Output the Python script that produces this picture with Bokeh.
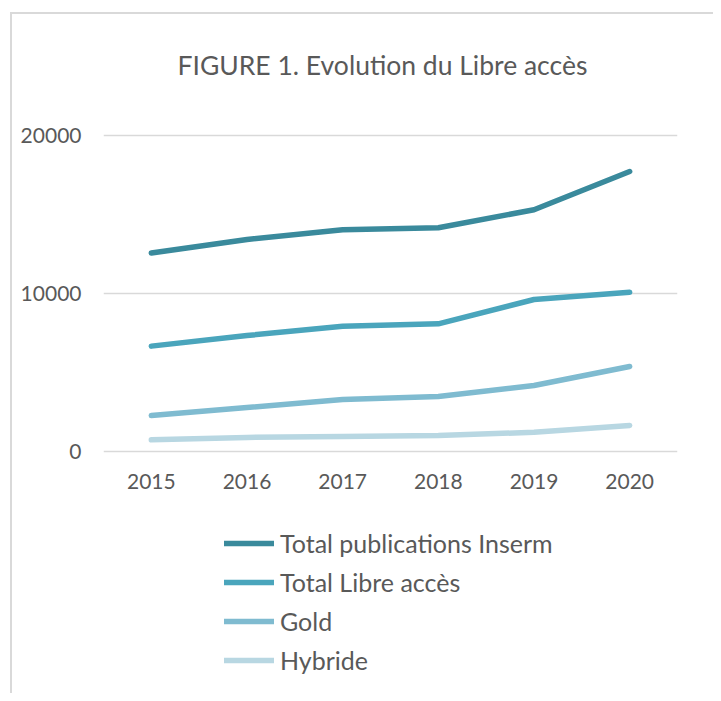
from bokeh.plotting import figure
from bokeh.layouts import column
from bokeh.models import Range1d, FactorRange, FixedTicker, NumeralTickFormatter
from bokeh.embed import file_html
from bokeh.resources import INLINE

years = ["2015", "2016", "2017", "2018", "2019", "2020"]
total_inserm = [12560, 13420, 14030, 14160, 15300, 17720]
total_libre = [6670, 7340, 7930, 8080, 9620, 10080]
gold = [2280, 2780, 3290, 3480, 4180, 5380]
hybride = [740, 890, 950, 1010, 1220, 1650]

series = [
    ("Total publications Inserm", total_inserm, "#3A8A9C"),
    ("Total Libre accès", total_libre, "#4AA5BC"),
    ("Gold", gold, "#7FBBD0"),
    ("Hybride", hybride, "#B8D7E2"),
]
y_ticks = [0, 10000, 20000]

FONT = "Lato"
TXT = "#595959"
LW = 5.5

p = figure(
    x_range=FactorRange(*years, range_padding=0),
    y_range=Range1d(-506, 22532),
    width=701, height=491,
    output_backend="svg", toolbar_location=None,
    min_border_left=91, min_border_right=36,
    min_border_top=81, min_border_bottom=46,
    title="FIGURE 1. Evolution du Libre accès",
)

p.title.text_font = FONT
p.title.text_font_size = "26.5px"
p.title.text_font_style = "normal"
p.title.text_color = TXT
p.title.align = "left"
p.title.offset = 74
p.title.standoff = 30

p.outline_line_color = None
p.background_fill_color = "white"
p.border_fill_color = "white"

p.xgrid.grid_line_color = None
p.ygrid.grid_line_color = "#D9D9D9"
p.ygrid.grid_line_width = 1.5
p.yaxis.ticker = FixedTicker(ticks=y_ticks)
p.yaxis.formatter = NumeralTickFormatter(format="0")
for ax in (p.xaxis[0], p.yaxis[0]):
    ax.axis_line_color = None
    ax.major_tick_line_color = None
    ax.minor_tick_line_color = None
    ax.major_label_text_font = FONT
    ax.major_label_text_font_size = "21px"
    ax.major_label_text_color = TXT
p.yaxis.major_label_standoff = 16
p.xaxis.major_label_standoff = 8

for name, vals, col in series:
    p.line(x=years, y=vals, line_width=LW, line_color=col, line_cap="round",
           line_join="round")

# legend panel (separate figure below the chart; its lines lie outside its view)
pl = figure(
    x_range=FactorRange(*years), y_range=Range1d(-2, -1),
    width=701, height=188,
    output_backend="svg", toolbar_location=None,
    x_axis_location=None, y_axis_location=None,
    min_border=0,
)
pl.grid.visible = False
pl.outline_line_color = None
for name, vals, col in series:
    pl.line(x=years, y=vals, line_width=LW, line_color=col, line_cap="round",
            legend_label=name)

lg = pl.legend[0]
lg.location = (121, 18)
lg.orientation = "vertical"
lg.border_line_color = None
lg.background_fill_alpha = 0
lg.padding = 0
lg.margin = 0
lg.spacing = 9
lg.glyph_width = 50
lg.glyph_height = 20
lg.label_height = 20
lg.label_standoff = 6
lg.label_text_font = FONT
lg.label_text_font_size = "25px"
lg.label_text_color = TXT

layout = column(p, pl, spacing=0)
layout.styles = {"border-left": "2px solid #D9D9D9", "border-top": "2px solid #D9D9D9",
                 "margin-left": "10px", "margin-top": "12px"}

open("out.html", "w").write(file_html(layout, INLINE))
